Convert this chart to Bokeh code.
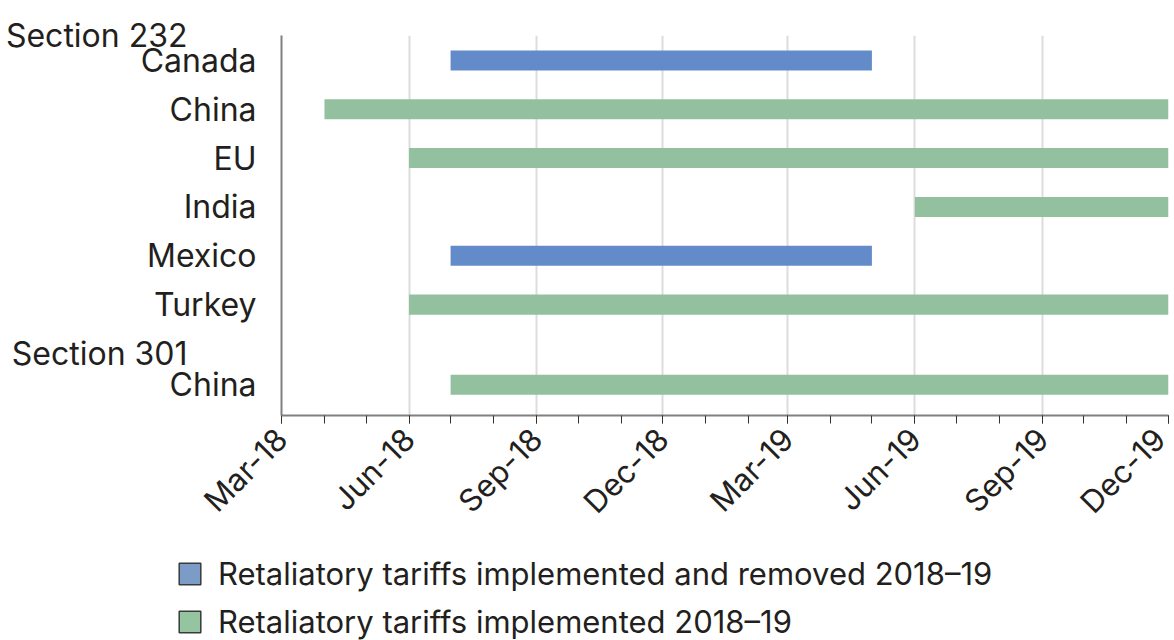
import math
import pandas as pd
from bokeh.plotting import figure
from bokeh.layouts import column
from bokeh.models import (Range1d, FixedTicker, DatetimeTickFormatter, LinearAxis,
                          Legend, LegendItem, ColumnDataSource)
from bokeh.embed import file_html
from bokeh.resources import INLINE

# ---------------- data ----------------
countries = ["Canada", "China", "EU", "India", "Mexico", "Turkey", "China"]
sections = ["Section 232"] * 6 + ["Section 301"]
start_month = ["2018-07", "2018-04", "2018-06", "2019-06", "2018-07", "2018-06", "2018-07"]
end_month = ["2019-05", "2019-12", "2019-12", "2019-12", "2019-05", "2019-12", "2019-12"]
status = ["removed", "implemented", "implemented", "implemented", "removed", "implemented", "implemented"]
tick_months = ["2018-03", "2018-06", "2018-09", "2018-12", "2019-03", "2019-06", "2019-09", "2019-12"]
legend_labels = {"removed": "Retaliatory tariffs implemented and removed 2018–19",
                 "implemented": "Retaliatory tariffs implemented 2018–19"}

# ---------------- style ----------------
bar_colors = {"removed": "#648bc9", "implemented": "#93c1a0"}
legend_colors = {"removed": "#7a9cc6", "implemented": "#94c4a0"}
TEXT = "#231f20"
FONT = "Inter"

# row positions: one row per country; section 301 group sits below its header row
rows = []
for i, s in enumerate(sections):
    rows.append(i if s == "Section 232" else i + 0.64)
header_rows = {"Section 232": -0.5, "Section 301": 6.0}

starts = pd.to_datetime(start_month)
ends = pd.to_datetime(end_month)

src = ColumnDataSource(dict(
    y=rows, left=starts, right=ends,
    color=[bar_colors[s] for s in status],
))

x0 = pd.Timestamp(tick_months[0])
x1 = pd.Timestamp(tick_months[-1])

p = figure(width=1172, height=538, x_axis_type="datetime",
           x_range=Range1d(x0, x1), y_range=Range1d(7.27, -0.51),
           output_backend="svg", toolbar_location=None,
           min_border_left=281, min_border_top=35, min_border_right=4,
           min_border_bottom=123)
p.outline_line_color = None
p.background_fill_color = "white"
p.frame_align = False

p.hbar(y="y", left="left", right="right", height=0.41, color="color",
       line_color=None, source=src)

# x axis
major = [pd.Timestamp(m).value // 10**6 for m in tick_months]
minor = [d.value // 10**6 for d in pd.date_range(x0, x1, freq="MS")]
p.xaxis.ticker = FixedTicker(ticks=major, minor_ticks=minor)
fmt = "%b-%y"
p.xaxis.formatter = DatetimeTickFormatter(
    milliseconds=fmt, seconds=fmt, minsec=fmt, minutes=fmt, hourmin=fmt,
    hours=fmt, days=fmt, months=fmt, years=fmt)
p.xaxis.major_label_orientation = math.pi / 4
p.xaxis.major_label_text_font = FONT
p.xaxis.major_label_text_font_size = "31px"
p.xaxis.major_label_text_color = TEXT
p.xaxis.axis_line_color = "#808080"
p.xaxis.axis_line_width = 2
p.xaxis.major_tick_line_color = "#333333"
p.xaxis.minor_tick_line_color = "#333333"
p.xaxis.major_tick_in = 0
p.xaxis.major_tick_out = 8
p.xaxis.minor_tick_in = 0
p.xaxis.minor_tick_out = 8
p.xaxis.major_label_standoff = 10

p.xgrid.ticker = FixedTicker(ticks=major)
p.xgrid.grid_line_color = "#dcdcdc"
p.xgrid.grid_line_width = 2
p.ygrid.grid_line_color = None

# y axis (countries)
p.yaxis.ticker = FixedTicker(ticks=rows)
overrides = {}
for r, c in zip(rows, countries):
    overrides[r] = c
    overrides[str(r)] = c
p.yaxis.major_label_overrides = overrides
p.yaxis.major_label_text_font = FONT
p.yaxis.major_label_text_font_size = "32px"
p.yaxis.major_label_text_color = TEXT
p.yaxis.axis_line_color = "#808080"
p.yaxis.axis_line_width = 2
p.yaxis.major_tick_line_color = None
p.yaxis.minor_tick_line_color = None
p.yaxis.major_label_standoff = 19

# outer y axis (section headers)
h_over = {}
for name, r in header_rows.items():
    h_over[r] = name
    h_over[str(r)] = name
sec_axis = LinearAxis(ticker=FixedTicker(ticks=list(header_rows.values())),
                      major_label_overrides=h_over,
                      major_label_text_font=FONT, major_label_text_font_size="32px",
                      major_label_text_color=TEXT, axis_line_color=None,
                      major_tick_line_color=None, minor_tick_line_color=None,
                      major_label_standoff=-56)
p.add_layout(sec_axis, "left")

# legend in its own strip below the chart
lg = figure(width=1172, height=102, output_backend="svg", toolbar_location=None,
            min_border=0, x_range=Range1d(0, 1), y_range=Range1d(0, 1))
lg.frame_align = False
lg.axis.visible = False
lg.grid.grid_line_color = None
lg.outline_line_color = None
items = []
for key in ["removed", "implemented"]:
    # swatch-only renderer (kept outside the strip's visible range)
    r = lg.rect(x=[-5], y=[-5], width=1, height=1, fill_color=legend_colors[key],
                line_color="#3a3a3a", line_width=1.5)
    items.append(LegendItem(label=legend_labels[key], renderers=[r]))
legend = Legend(items=items, location=(176, 0), orientation="vertical",
                glyph_width=27, glyph_height=27, label_standoff=15,
                label_text_font=FONT, label_text_font_size="31px",
                label_text_color=TEXT, padding=0, margin=0, spacing=11,
                border_line_color=None, background_fill_alpha=0)
lg.add_layout(legend, "center")

open("out.html", "w").write(file_html(column(p, lg, spacing=0), INLINE))
